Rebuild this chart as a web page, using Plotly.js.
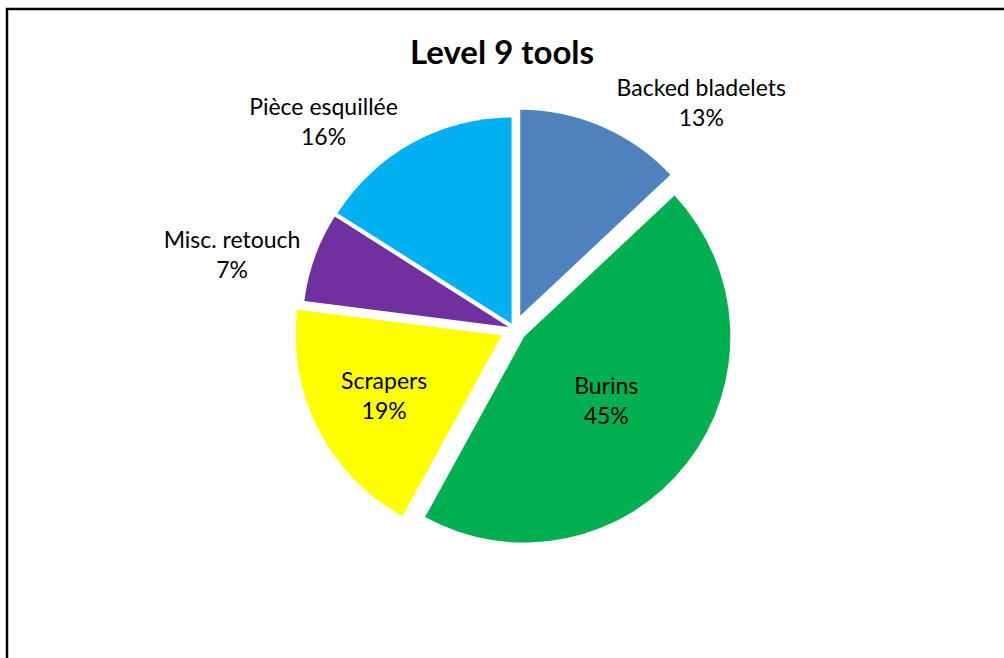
<!DOCTYPE html>
<html>
<head>
<meta charset="utf-8">
<script src="https://cdn.plot.ly/plotly-3.0.1.min.js"></script>
<style>html,body{margin:0;padding:0;background:#fff;}#chart{width:1004px;height:658px;}</style>
</head>
<body>
<div id="chart"></div>
<script>
const categories = ["Backed bladelets", "Burins", "Scrapers", "Misc. retouch", "Pièce esquillée"];
const percentages = [13, 45, 19, 7, 16];
const sliceColors = ["#4F81BD", "#00B050", "#FFFF00", "#7030A0", "#00B0F0"];
const textPositions = ["outside", "inside", "inside", "outside", "outside"];

const fontFam = "Lato, 'Open Sans', sans-serif";

const trace = {
  type: "pie",
  labels: categories,
  values: percentages,
  sort: false,
  direction: "clockwise",
  rotation: 0,
  marker: {colors: sliceColors, line: {color: "#ffffff", width: 0}},
  pull: [0.07, 0.06, 0.07, 0.03, 0.03],
  textinfo: "label+percent",
  texttemplate: "%{label}<br>%{percent:.0%}",
  textposition: textPositions,
  insidetextorientation: "horizontal",
  textfont: {family: fontFam, size: 23, color: "#000"},
  outsidetextfont: {family: fontFam, size: 23, color: "#000"},
  automargin: false,
  domain: {x: [0.27, 0.755], y: [0.165, 0.835]},
  hoverinfo: "label+percent"
};

const layout = {
  width: 1004,
  height: 658,
  margin: {l: 0, r: 0, t: 0, b: 0},
  paper_bgcolor: "#ffffff",
  showlegend: false,
  title: {
    text: "<b>Level 9 tools</b>",
    font: {family: fontFam, size: 33, color: "#000"},
    x: 0.5, xref: "paper", xanchor: "center",
    y: 1 - 52/658, yref: "paper", yanchor: "middle"
  },
  shapes: [{
    type: "rect", xref: "paper", yref: "paper",
    x0: 7/1004, x1: 1.01, y0: -0.01, y1: 1 - 9/658,
    line: {color: "#000", width: 2.5}, fillcolor: "rgba(0,0,0,0)"
  }]
};

Plotly.newPlot("chart", [trace], layout, {displayModeBar: false, staticPlot: true});
</script>
</body>
</html>
